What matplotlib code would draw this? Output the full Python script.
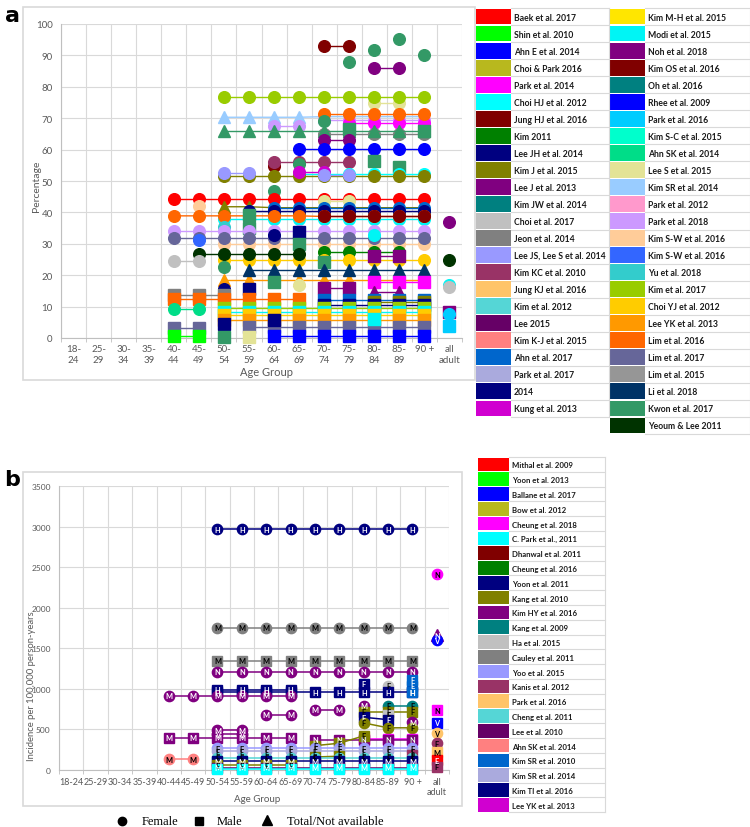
import matplotlib
matplotlib.use("Agg")
import matplotlib.pyplot as plt
from matplotlib.patches import Rectangle
import matplotlib.colors as mcolors

plt.rcParams['font.family'] = ['Lato', 'DejaVu Sans']

# ---------------- data ----------------
age_labels_a = ['18-\n24', '25-\n29', '30-\n34', '35-\n39', '40-\n44', '45-\n49', '50-\n54', '55-\n59',
                '60-\n64', '65-\n69', '70-\n74', '75-\n79', '80-\n84', '85-\n89', '90 +', 'all\nadult']
age_labels_b = ['18-24', '25-29', '30-34', '35-39', '40-44', '45-49', '50-54', '55-59',
                '60-64', '65-69', '70-74', '75-79', '80-84', '85-89', '90 +', 'all\nadult']

studies_a = ['Baek et al. 2017', 'Shin et al. 2010', 'Ahn E et al. 2014', 'Choi & Park 2016',
             'Park et al. 2014', 'Choi HJ et al. 2012', 'Jung HJ et al. 2016', 'Kim 2011',
             'Lee JH et al. 2014', 'Kim J et al. 2015', 'Lee J et al. 2013', 'Kim JW et al. 2014',
             'Choi et al. 2017', 'Jeon et al. 2014', 'Lee JS, Lee S et al. 2014', 'Kim KC et al. 2010',
             'Jung KJ et al. 2016', 'Kim et al. 2012', 'Lee 2015', 'Kim K-J et al. 2015',
             'Ahn et al. 2017', 'Park et al. 2017', '2014', 'Kung et al. 2013',
             'Kim M-H et al. 2015', 'Modi et al. 2015', 'Noh et al. 2018', 'Kim OS et al. 2016',
             'Oh et al. 2016', 'Rhee et al. 2009', 'Park et al. 2016', 'Kim S-C et al. 2015',
             'Ahn SK et al. 2014', 'Lee S et al. 2015', 'Kim SR et al. 2014', 'Park et al. 2012',
             'Park et al. 2018', 'Kim S-W et al. 2016', 'Kim S-W et al. 2016 ', 'Yu et al. 2018',
             'Kim et al. 2017', 'Choi YJ et al. 2012', 'Lee YK et al. 2013', 'Lim et al. 2016',
             'Lim et al. 2017', 'Lim et al. 2015', 'Li et al. 2018', 'Kwon et al. 2017',
             'Yeoum & Lee 2011']
colors_a = ['#FF0000', '#00FF00', '#0000FF', '#B8B81E', '#FF00FF', '#00FFFF', '#800000', '#008000',
            '#000080', '#808000', '#800080', '#008080', '#C0C0C0', '#808080', '#9999FF', '#993366',
            '#FFC469', '#55D6D6', '#660066', '#FF8080', '#0066CC', '#AAAADD', '#000080', '#D000D0',
            '#FFE600', '#00F5F5', '#800080', '#800000', '#008080', '#0000FF', '#00CCFF', '#00FFCC',
            '#00DD88', '#E3E396', '#99CCFF', '#FF99CC', '#CC99FF', '#FFCC99', '#3366FF', '#33CCCC',
            '#99CC00', '#FFCC00', '#FF9900', '#FF6600', '#666699', '#969696', '#003366', '#339966',
            '#003300']

# (study, marker, first age-group index, values)
series_a = [
    ('Jung HJ et al. 2016', 'o', 10, [92.9, 92.9]),
    ('Kwon et al. 2017', 'o', 11, [88.0]),
    ('Kwon et al. 2017', 'o', 12, [91.8]),
    ('Kwon et al. 2017', 'o', 13, [95.2]),
    ('Kwon et al. 2017', 'o', 14, [90.0]),
    ('Noh et al. 2018', 'o', 12, [85.9, 85.9]),
    ('Lee S et al. 2015', 'o', 12, [74.8, 74.8]),
    ('Kim et al. 2017', 'o', 6, [76.6, 76.6, 76.6, 76.6, 76.6, 76.6, 76.6, 76.6, 76.6]),
    ('Kim SR et al. 2014', '^', 6, [70.3, 70.3, 70.3, 70.3, 70.5, 70.5, 70.5, 70.5, 70.5]),
    ('Park et al. 2018', 'o', 8, [67.4, 67.4]),
    ('Park et al. 2018', 'o', 10, [69.5, 69.5, 69.5, 69.5, 69.5]),
    ('Park et al. 2014', 'o', 11, [68.5, 68.5, 68.5, 68.5]),
    ('Lim et al. 2016', 'o', 10, [71.3, 71.3, 71.3, 71.3, 71.3]),
    ('Jeon et al. 2014', 'o', 10, [64.9, 64.9, 64.9, 64.9, 64.9]),
    ('Kwon et al. 2017', '^', 6, [65.9, 65.9, 65.9, 65.9, 65.9, 65.9, 65.9, 65.9, 65.9]),
    ('Kwon et al. 2017', 'o', 10, [69.0]),
    ('Kwon et al. 2017', 's', 11, [66.5]),
    ('Kwon et al. 2017', 's', 14, [66.0]),
    ('Lee J et al. 2013', 'o', 10, [62.9, 62.9]),
    ('Ahn E et al. 2014', 'o', 9, [60.2, 60.2, 60.2, 60.2, 60.2, 60.2]),
    ('Jung HJ et al. 2016', 'o', 8, [54.8]),
    ('Kim KC et al. 2010', 'o', 8, [56.0, 56.0, 56.0, 56.0]),
    ('Kwon et al. 2017', 'o', 9, [55.5]),
    ('Kwon et al. 2017', 's', 12, [56.3]),
    ('Kwon et al. 2017', 's', 13, [54.4]),
    ('Choi HJ et al. 2012', 'o', 9, [52.3, 52.3, 52.3, 52.3, 52.3, 52.3]),
    ('Kim J et al. 2015', 'o', 6, [51.7, 51.7, 51.7, 51.7, 51.7, 51.7, 51.7, 51.7, 51.7]),
    ('Kung et al. 2013', 'o', 9, [53.0, 53.0]),
    ('Lee JS, Lee S et al. 2014', 'o', 6, [52.4, 52.4]),
    ('Lee JS, Lee S et al. 2014', 'o', 10, [52.0, 52.0]),
    ('Kwon et al. 2017', 'o', 8, [46.7]),
    ('Baek et al. 2017', 'o', 4, [44.3, 44.3, 44.3, 44.3, 44.3, 44.3, 44.3, 44.3, 44.3, 44.3, 44.3]),
    ('Lee S et al. 2015', 'o', 10, [43.6, 43.6]),
    ('Kim J et al. 2015', '^', 6, [41.8, 41.8, 41.5, 41.5, 41.5, 41.5, 41.5, 41.5, 41.5]),
    ('Kim S-W et al. 2016', 'o', 5, [42.0]),
    ('Ahn et al. 2017', 'o', 8, [41.4, 41.4, 41.4, 41.4, 41.4, 41.4, 41.4]),
    ('Lee JH et al. 2014', 'o', 7, [40.3, 40.3, 40.3, 40.3, 40.3, 40.3, 40.3, 40.3]),
    ('Modi et al. 2015', 'o', 6, [38.0, 38.0, 38.0, 38.0, 38.0, 38.0, 38.0, 38.0, 38.0]),
    ('Lim et al. 2016', 'o', 4, [38.9, 38.9, 38.9, 38.9, 38.9, 38.9, 38.7, 38.7, 38.7, 38.7, 38.7]),
    ('Kim OS et al. 2016', 'o', 10, [38.9, 38.9, 38.9, 38.9, 38.9]),
    ('Kwon et al. 2017', 's', 7, [39.2]),
    ('Kwon et al. 2017', 's', 7, [35.0]),
    ('Yu et al. 2018', 'o', 6, [35.5]),
    ('Park et al. 2018', 'o', 4, [34.0, 34.0, 34.0, 34.0, 34.0, 34.0, 34.0, 34.0, 34.0, 34.0, 34.0]),
    ('Kim S-W et al. 2016', 'o', 6, [30.0, 30.0, 30.0, 30.0, 30.0, 30.0, 30.0, 30.0, 30.0]),
    ('Lim et al. 2017', 'o', 4, [31.8, 31.8, 31.8, 31.8, 31.8, 31.8, 31.8, 31.8, 31.8, 31.8, 31.8]),
    ('Kim S-W et al. 2016 ', 'o', 5, [31.2]),
    ('Lee JH et al. 2014', 'o', 8, [32.7]),
    ('2014', 's', 9, [33.7]),
    ('Kwon et al. 2017', 's', 9, [30.0]),
    ('Modi et al. 2015', 'o', 12, [32.7]),
    ('Kim 2011', 'o', 10, [27.5, 27.5, 27.5, 27.5]),
    ('Choi YJ et al. 2012', 'o', 6, [25.0, 25.0, 25.0, 25.0, 25.0, 25.0, 25.0, 25.0, 25.0]),
    ('Lee J et al. 2013', 's', 12, [26.0, 26.0]),
    ('Yeoum & Lee 2011', 'o', 5, [26.6, 26.6, 26.6, 26.6, 26.6]),
    ('Choi et al. 2017', 'o', 4, [24.4, 24.4]),
    ('Kwon et al. 2017', 's', 10, [24.2]),
    ('Kwon et al. 2017', 'o', 6, [22.6]),
    ('Lee YK et al. 2013', '^', 6, [18.5, 18.5, 18.5, 18.5, 18.5, 18.5, 18.5, 18.5, 18.5]),
    ('Li et al. 2018', '^', 7, [21.8, 21.8, 21.8, 21.8, 21.8, 21.8, 21.8, 21.8]),
    ('Park et al. 2014', 's', 12, [17.9, 17.9, 17.9]),
    ('Kwon et al. 2017', 's', 8, [17.8]),
    ('Lee S et al. 2015', 'o', 9, [16.8]),
    ('Lee J et al. 2013', 's', 10, [16.0, 16.0]),
    ('Lee J et al. 2013', '^', 12, [14.8, 14.8]),
    ('Lee JH et al. 2014', 'o', 6, [15.7]),
    ('2014', 's', 7, [15.7]),
    ('Jeon et al. 2014', 's', 4, [13.6, 13.6, 13.6]),
    ('Lim et al. 2016', 's', 4, [12.5, 12.5, 12.5, 12.5, 12.5, 12.5]),
    ('Ahn SK et al. 2014', 'o', 4, [9.1, 9.1]),
    ('Ahn et al. 2017', 's', 10, [12.0, 12.0, 12.0, 12.0, 12.0]),
    ('Kim J et al. 2015', 's', 12, [11.5, 11.5, 11.5]),
    ('Lee JH et al. 2014', 's', 10, [10.5, 10.5, 10.5, 10.5, 10.5]),
    ('Kim et al. 2017', 's', 6, [9.5, 9.5, 9.5, 9.5, 9.5, 9.5, 9.5, 9.5, 9.5]),
    ('Modi et al. 2015', 's', 6, [8.3, 8.3, 8.3, 8.3, 8.3, 8.3, 8.3, 8.3, 8.3]),
    ('Choi YJ et al. 2012', 's', 6, [7.3, 7.3, 7.3, 7.3, 7.3, 7.3, 7.3, 7.3, 7.3]),
    ('Lee YK et al. 2013', 's', 6, [5.8, 5.8, 5.8, 5.8, 5.8, 5.8, 5.8, 5.8, 5.8]),
    ('Lim et al. 2017', 's', 7, [3.5, 3.5, 3.5, 3.5, 3.5, 3.5, 3.5, 3.5]),
    ('Lim et al. 2017', 's', 4, [3.2, 3.2]),
    ('2014', 's', 6, [4.6]),
    ('2014', 's', 8, [5.6]),
    ('Modi et al. 2015', 's', 12, [6.0]),
    ('Ahn E et al. 2014', 's', 8, [0.5, 0.5, 0.5, 0.5, 0.5, 0.5, 0.5]),
    ('Shin et al. 2010', 's', 4, [0.5, 0.5]),
    ('Kwon et al. 2017', 's', 6, [0.3]),
    ('Lee S et al. 2015', 's', 7, [0.2]),
    ('Noh et al. 2018', 'o', 15, [36.8]),
    ('Yeoum & Lee 2011', 'o', 15, [24.8]),
    ('Modi et al. 2015', 'o', 15, [17.0]),
    ('Choi et al. 2017', 'o', 15, [16.2]),
    ('Noh et al. 2018', 's', 15, [8.3]),
    ('Park et al. 2016', 'o', 15, [7.6]),
    ('Park et al. 2016', 's', 15, [3.8]),
]

studies_b = ['Mithal et al. 2009', 'Yoon et al. 2013', 'Ballane et al. 2017', 'Bow et al. 2012',
             'Cheung et al. 2018', 'C. Park et al., 2011', 'Dhanwal et al. 2011', 'Cheung et al. 2016',
             'Yoon et al. 2011', 'Kang et al. 2010', 'Kim HY et al. 2016', 'Kang et al. 2009',
             'Ha et al. 2015', 'Cauley et al. 2011', 'Yoo et al. 2015', 'Kanis et al. 2012',
             'Park et al. 2016', 'Cheng et al. 2011', 'Lee et al. 2010', 'Ahn SK et al. 2014',
             'Kim SR et al. 2010', 'Kim SR et al. 2014', 'Kim TI et al. 2016', 'Lee YK et al. 2013']
colors_b = ['#FF0000', '#00FF00', '#0000FF', '#B8B81E', '#FF00FF', '#00FFFF', '#800000', '#008000',
            '#000080', '#808000', '#800080', '#008080', '#C0C0C0', '#808080', '#9999FF', '#993366',
            '#FFC469', '#55D6D6', '#660066', '#FF8080', '#0066CC', '#AAAADD', '#000080', '#D000D0']

# (study, marker, letter, first age-group index, values)
series_b = [
    ('Yoon et al. 2011', 'o', 'H', 6, [2970, 2970, 2970, 2970, 2970, 2970, 2970, 2970, 2970]),
    ('Cauley et al. 2011', 'o', 'M', 6, [1750, 1750, 1750, 1750, 1750, 1750, 1750, 1750, 1750]),
    ('Cauley et al. 2011', 's', 'M', 6, [1345, 1345, 1345, 1345, 1345, 1345, 1345, 1345, 1345]),
    ('Kim HY et al. 2016', 'o', 'N', 6, [1210, 1210, 1210, 1210, 1210, 1210, 1210, 1210, 1210]),
    ('Yoon et al. 2011', 's', 'F', 12, [1060]),
    ('Ha et al. 2015', 'o', 'F', 13, [1040]),
    ('Kim SR et al. 2010', 's', 'F', 14, [1110]),
    ('Kim SR et al. 2010', 's', 'E', 14, [1040]),
    ('Yoon et al. 2011', 's', 'H', 6, [990, 990, 990, 990]),
    ('Yoon et al. 2011', 's', 'H', 6, [960, 960, 960, 960, 960, 960, 960, 960, 960]),
    ('Kim SR et al. 2010', 's', 'H', 14, [960]),
    ('Kim HY et al. 2016', 'o', 'M', 4, [915, 915, 915, 915, 915, 915]),
    ('Kang et al. 2009', 'o', 'F', 13, [790, 790]),
    ('Kim HY et al. 2016', 'o', 'M', 12, [790]),
    ('Kim HY et al. 2016', 'o', 'M', 10, [740, 740]),
    ('Kim HY et al. 2016', 'o', 'M', 8, [680, 680]),
    ('Kang et al. 2010', 's', 'F', 12, [720, 720, 720]),
    ('Ha et al. 2015', 's', 'F', 13, [680]),
    ('Yoon et al. 2011', 's', 'F', 12, [650, 620]),
    ('Kim HY et al. 2016', 'o', 'M', 14, [590]),
    ('Kang et al. 2010', 'o', 'F', 12, [580, 520, 520]),
    ('Kim HY et al. 2016', 'o', 'M', 6, [490, 490]),
    ('Kim HY et al. 2016', 'o', 'V', 6, [440, 440]),
    ('Kim HY et al. 2016', 's', 'M', 4, [395, 395, 395, 395, 395, 395]),
    ('Cheung et al. 2018', 's', 'N', 12, [380, 380, 380]),
    ('Kim HY et al. 2016', 's', 'N', 10, [370, 370, 370, 370, 370]),
    ('Kang et al. 2010', 's', 'F', 10, [300, 330, 420]),
    ('Yoo et al. 2015', 'o', 'F', 6, [270, 270, 270, 270, 270, 270, 270, 270, 270]),
    ('Kim SR et al. 2014', 'o', 'E', 6, [230, 230, 230, 230, 230, 230, 230, 230, 230]),
    ('Kanis et al. 2012', 's', 'F', 14, [180]),
    ('Kang et al. 2010', 's', 'E', 10, [160, 170]),
    ('Cheng et al. 2011', 'o', 'E', 6, [150, 150, 150, 150, 150, 150, 150, 150, 150]),
    ('Ahn SK et al. 2014', 'o', 'M', 4, [135, 135]),
    ('Kim TI et al. 2016', 's', 'M', 6, [110, 110, 110, 110, 110, 110, 110, 110, 110]),
    ('Kang et al. 2010', 's', 'E', 6, [60, 60, 60, 60]),
    ('Lee et al. 2010', 's', 'M', 6, [30, 30, 30, 30, 30, 30, 30, 30, 30]),
    ('C. Park et al., 2011', 's', '', 6, [15, 15, 15, 15, 15, 15, 15, 15, 15]),
    ('Cheung et al. 2018', 'o', 'N', 15, [2415]),
    ('Kim HY et al. 2016', '^', 'N', 15, [1660]),
    ('Ballane et al. 2017', 'o', 'V', 15, [1600]),
    ('Cheung et al. 2018', 's', 'N', 15, [735]),
    ('Ballane et al. 2017', 's', 'V', 15, [585]),
    ('Park et al. 2016', 'o', 'V', 15, [450]),
    ('Kanis et al. 2012', 'o', 'F', 15, [330]),
    ('Park et al. 2016', 's', 'M', 15, [220]),
    ('Mithal et al. 2009', 's', 'E', 15, [120]),
    ('Kanis et al. 2012', 's', 'F', 15, [40]),
]

# ---------------- figure ----------------
W, H = 750, 828
fig = plt.figure(figsize=(W / 100, H / 100), dpi=100)

ov = fig.add_axes([0, 0, 1, 1])
ov.set_xlim(0, W)
ov.set_ylim(H, 0)
ov.axis('off')
ov.set_zorder(-1)

GRID = '#D9D9D9'
TXT = '#595959'


def fx(px):
    return px / W


def fy(py):
    return 1 - py / H


# panel frames
ov.add_patch(Rectangle((23, 8), 452, 373, fill=False, ec='#D9D9D9', lw=1.2))
ov.add_patch(Rectangle((23, 473), 439, 334, fill=False, ec='#D9D9D9', lw=1.2))
ov.text(12, 16, 'a', fontsize=16, fontweight='bold', ha='center', va='center', family='DejaVu Sans')
ov.text(12, 480, 'b', fontsize=16, fontweight='bold', ha='center', va='center', family='DejaVu Sans')

cmap_a = dict(zip(studies_a, colors_a))
cmap_b = dict(zip(studies_b, colors_b))


def style_axes(ax, ymax, ystep, labels, fs_y, fs_x):
    ax.set_xlim(-0.5, 15.5)
    ax.set_ylim(0, ymax)
    ax.set_yticks(range(0, ymax + 1, ystep))
    ax.set_xticks(range(16))
    ax.set_xticklabels(labels)
    ax.set_xticks([i - 0.5 for i in range(17)], minor=True)
    ax.grid(which='minor', axis='x', color=GRID, lw=0.8)
    ax.grid(which='major', axis='y', color=GRID, lw=0.8)
    ax.grid(which='major', axis='x', visible=False)
    ax.set_axisbelow(True)
    for s in ['top', 'right']:
        ax.spines[s].set_visible(False)
    for s in ['left', 'bottom']:
        ax.spines[s].set_color('#BFBFBF')
    ax.tick_params(axis='y', length=0, pad=6, labelsize=fs_y, labelcolor=TXT)
    ax.tick_params(axis='x', which='major', length=0, pad=4, labelsize=fs_x, labelcolor=TXT)
    ax.tick_params(axis='x', which='minor', length=3, color='#BFBFBF')


# ---------- panel a ----------
axa = fig.add_axes([fx(61), fy(339), fx(401), 314 / H])
style_axes(axa, 100, 10, age_labels_a, 7, 7)
for lab in axa.get_xticklabels():
    lab.set_linespacing(1.35)
for study, mk, start, vals in series_a:
    xs = list(range(start, start + len(vals)))
    ms = 9.2 if mk == '^' else 8.4
    axa.plot(xs, vals, color=cmap_a[study], marker=mk, ms=ms, mec=cmap_a[study], lw=1.0,
             clip_on=False, zorder=3)
ov.text(37, 186, 'Percentage', rotation=90, ha='center', va='center', fontsize=7.5, color=TXT)
ov.text(267, 373, 'Age Group', ha='center', va='center', fontsize=8, color=TXT)

# legend table a
row_h = 17.04
for col, (x0, names) in enumerate([(476, studies_a[:24]), (610, studies_a[24:])]):
    tx1 = 609 if col == 0 else 750
    for i, name in enumerate(names):
        y0 = 9 + i * row_h
        ov.add_patch(Rectangle((x0, y0 + 0.6), 35, row_h - 1.2, color=cmap_a[name], lw=0))
        ov.plot([x0 + 35, tx1], [y0 + row_h, y0 + row_h], color='#D9D9D9', lw=0.8)
        ov.text(x0 + 38, y0 + row_h / 2 + 0.5, name.strip(), fontsize=6.2, fontweight='bold',
                color='#1a1a1a', ha='left', va='center')
    ov.plot([tx1 - 0.5, tx1 - 0.5], [9, 9 + len(names) * row_h], color='#D9D9D9', lw=0.8)
    ov.plot([x0 + 35, tx1], [9, 9], color='#D9D9D9', lw=0.8)

# ---------- panel b ----------
axb = fig.add_axes([fx(59), fy(771), fx(390), 284 / H])
style_axes(axb, 3500, 500, age_labels_b, 6, 6.5)
axb.tick_params(axis='x', which='major', pad=5)


def text_color(c):
    r, g, b = mcolors.to_rgb(c)
    return 'black' if 0.299 * r + 0.587 * g + 0.114 * b > 0.33 else 'white'


for study, mk, letter, start, vals in series_b:
    xs = list(range(start, start + len(vals)))
    c = cmap_b[study]
    ms = 8.2 if mk == '^' else 7.4
    axb.plot(xs, vals, color=c, marker=mk, ms=ms, mec=c, lw=1.1, clip_on=False, zorder=3)
for study, mk, letter, start, vals in series_b:
    c = cmap_b[study]
    for i, v in enumerate(vals):
        axb.text(start + i, v, letter, fontsize=5.3, fontweight='bold', color=text_color(c),
                 ha='center', va='center', zorder=4, clip_on=False)

ov.text(32, 686, 'Incidence per 100,000 person-years', rotation=90, ha='center', va='center',
        fontsize=6.8, color=TXT)
ov.text(257, 800, 'Age Group', ha='center', va='center', fontsize=7, color=TXT)

# legend table b
row_hb = 14.8
for i, name in enumerate(studies_b):
    y0 = 458 + i * row_hb
    ov.add_patch(Rectangle((478, y0 + 0.6), 31, row_hb - 1.2, color=cmap_b[name], lw=0))
    ov.plot([509, 605], [y0 + row_hb, y0 + row_hb], color='#D9D9D9', lw=0.8)
    ov.text(512, y0 + row_hb / 2 + 0.5, name, fontsize=5.6, fontweight='bold', color='#1a1a1a',
            ha='left', va='center')
ov.plot([605, 605], [458, 458 + 24 * row_hb], color='#D9D9D9', lw=0.8)
ov.plot([509, 605], [458, 458], color='#D9D9D9', lw=0.8)

# sex legend
ov.plot([122], [822], marker='o', color='black', ms=6)
ov.text(142, 822, 'Female', fontsize=9, family='Liberation Serif', ha='left', va='center')
ov.plot([199], [822], marker='s', color='black', ms=6)
ov.text(217, 822, 'Male', fontsize=9, family='Liberation Serif', ha='left', va='center')
ov.plot([267], [821], marker='^', color='black', ms=7)
ov.text(287, 822, 'Total/Not available', fontsize=9, family='Liberation Serif', ha='left', va='center')

fig.savefig('out.png', dpi=100)
